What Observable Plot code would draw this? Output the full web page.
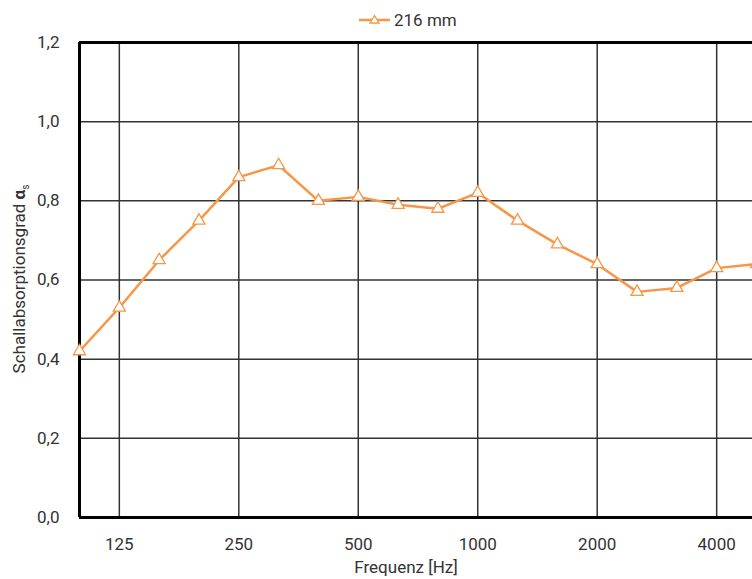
<!DOCTYPE html>
<html>
<head>
<meta charset="utf-8">
<script src="https://cdn.jsdelivr.net/npm/d3@7"></script>
<script src="https://cdn.jsdelivr.net/npm/@observablehq/plot@0.6"></script>
<style>
  html, body { margin: 0; padding: 0; background: #fff; overflow: hidden; width: 752px; height: 579px; }
  #wrap { position: relative; width: 752px; height: 579px; overflow: hidden; font-family: Roboto, "Noto Sans", sans-serif; }
  #legend { position: absolute; left: 358px; top: 7px; height: 26px; display: flex; align-items: center; font-size: 17px; color: #333; }
  #chart { position: absolute; left: 0; top: 38px; width: 800px; }
  #chart svg { max-width: none !important; }
</style>
</head>
<body>
<div id="wrap">
  <div id="legend">
    <svg width="34" height="20" style="margin-right:2px">
      <line x1="1" y1="10" x2="32" y2="10" stroke="#F79646" stroke-width="2.5"></line>
      <path d="M16.5,5.5 L21,13 L12,13 Z" fill="#fff" stroke="#F79646" stroke-width="1.3"></path>
    </svg>
    <span>216 mm</span>
  </div>
  <div id="chart"></div>
</div>
<script>
const frequencies = ["100","125","160","200","250","315","400","500","630","800","1000","1250","1600","2000","2500","3150","4000","5000"];
const absorption = [0.42,0.53,0.65,0.75,0.86,0.89,0.80,0.81,0.79,0.78,0.82,0.75,0.69,0.64,0.57,0.58,0.63,0.64];
const xTickLabels = ["125","250","500","1000","2000","4000"];
const yTicks = [0,0.2,0.4,0.6,0.8,1.0,1.2];
const xTitle = "Frequenz [Hz]";

const data = frequencies.map((f, i) => ({i, f, v: absorption[i]}));
const xTickIdx = xTickLabels.map(l => frequencies.indexOf(l));
const fmt = d => d.toFixed(1).replace(".", ",");

const color = "#F79646";
const plot = Plot.plot({
  width: 800,
  height: 541,
  marginLeft: 79,
  marginRight: 44,
  marginTop: 4,
  marginBottom: 62,
  style: {fontFamily: "Roboto, 'Noto Sans', sans-serif", fontSize: "17px", color: "#333", background: "#fff", maxWidth: "none"},
  x: {domain: [0, 17], ticks: xTickIdx, tickFormat: i => frequencies[i], tickSize: 0, tickPadding: 20, label: null},
  y: {domain: [0, 1.2], ticks: yTicks, tickFormat: fmt, tickSize: 0, tickPadding: 20, label: null},
  marks: [
    Plot.gridX(xTickIdx, {stroke: "#333", strokeOpacity: 1, strokeWidth: 1.5}),
    Plot.gridY(yTicks.slice(1, -1), {stroke: "#333", strokeOpacity: 1, strokeWidth: 1.5}),
    Plot.ruleX([0], {stroke: "#000", strokeWidth: 3}),
    Plot.ruleY([0], {stroke: "#000", strokeWidth: 3}),
    Plot.ruleY([1.2], {stroke: "#000", strokeWidth: 3}),
    Plot.line(data, {x: "i", y: "v", stroke: color, strokeWidth: 2.5}),
    Plot.dot(data, {x: "i", y: "v", symbol: "triangle", r: 4.5, fill: "#fff", stroke: color, strokeWidth: 1.3}),
    Plot.text([xTitle], {x: 8.2, frameAnchor: "bottom", dy: 55, text: d => d, fill: "#333", fontSize: 17})
  ]
});
plot.style.overflow = "visible";
plot.style.maxWidth = "none";
document.getElementById("chart").appendChild(plot);

// y-axis title with bold alpha and subscript s
const svg = d3.select(plot);
const t = svg.append("text")
  .attr("transform", "translate(25,241) rotate(-90)")
  .attr("text-anchor", "middle")
  .attr("fill", "#333")
  .style("font-size", "17px")
  .style("font-family", "Roboto, 'Noto Sans', sans-serif");
t.append("tspan").text("Schallabsorptionsgrad ");
t.append("tspan").attr("font-weight", "bold").text("α");
t.append("tspan").attr("font-size", "10px").attr("dy", "4").text("s");
</script>
</body>
</html>
